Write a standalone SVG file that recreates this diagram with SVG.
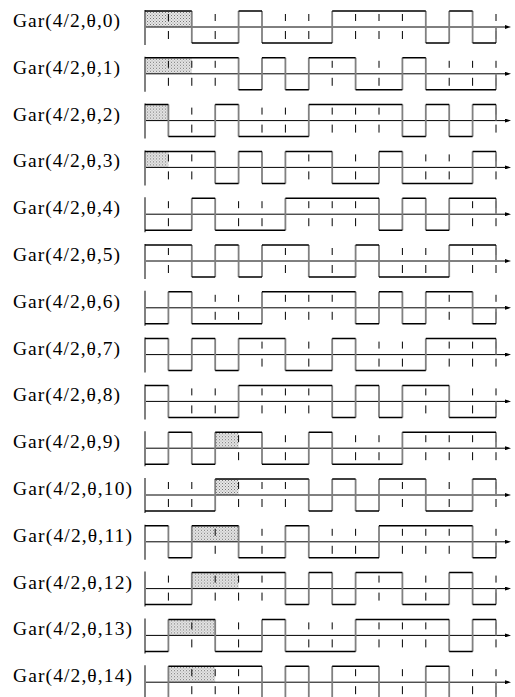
<svg xmlns="http://www.w3.org/2000/svg" xmlns:xlink="http://www.w3.org/1999/xlink" width="515" height="697" viewBox="0 0 515 697">
<style>
.lbl{font-family:"Liberation Serif","Times New Roman",serif;font-size:19.5px;fill:#000}
.hz{fill:none;stroke:#000;stroke-width:1.5}
.vt{fill:none;stroke:#808080;stroke-width:1.8}
.yax{stroke:#808080;stroke-width:2}
.ax{stroke:#000;stroke-width:1}
.tk{stroke:#000;stroke-width:1;stroke-dasharray:7 10 8}
.sh{fill:url(#dots);stroke:none}
</style>
<defs>
<pattern id="dots" width="3" height="3" patternUnits="userSpaceOnUse">
<rect width="3" height="3" fill="#e6e6e6"/>
<rect width="1" height="1" fill="#777"/>
<rect x="1.5" y="1.5" width="1" height="1" fill="#999"/>
</pattern>
<marker id="arr" viewBox="0 0 6 4" refX="1" refY="2" markerWidth="6" markerHeight="4" markerUnits="userSpaceOnUse" orient="auto">
<path d="M0,0 L6,2 L0,4 Z" fill="#000"/>
</marker>
<line id="tick" class="tk" x1="0" y1="-13" x2="0" y2="12"/>
<g id="frame">
<line class="ax" x1="145" y1="0" x2="506" y2="0" marker-end="url(#arr)"/>
<line class="yax" x1="145" y1="-17" x2="145" y2="18"/>
</g>
</defs>

<g id="row0" transform="translate(0,27)">
<text class="lbl" x="13" y="0" textLength="107" lengthAdjust="spacing">Gar(4/2,θ,0)</text>
<rect class="sh" x="145" y="-16" width="46.8" height="16"/>
<use href="#frame"/>
<use href="#tick" x="168.4"/><use href="#tick" x="215.2"/><use href="#tick" x="285.4"/><use href="#tick" x="308.8"/><use href="#tick" x="355.6"/><use href="#tick" x="379"/><use href="#tick" x="402.4"/><use href="#tick" x="496"/>
<path class="vt" d="M191.8 -16V16M238.6 -16V16M262 -16V16M332.2 -16V16M425.8 -16V16M449.2 -16V16M472.6 -16V16M496 0V16"/>
<path class="hz" d="M145 -16H191.8M191.8 16H238.6M238.6 -16H262M262 16H332.2M332.2 -16H425.8M425.8 16H449.2M449.2 -16H472.6M472.6 16H496"/>
</g>

<g id="row1" transform="translate(0,73.8)">
<text class="lbl" x="13" y="0" textLength="107" lengthAdjust="spacing">Gar(4/2,θ,1)</text>
<rect class="sh" x="145" y="-16" width="46.8" height="16"/>
<use href="#frame"/>
<use href="#tick" x="168.4"/><use href="#tick" x="191.8"/><use href="#tick" x="215.2"/><use href="#tick" x="332.2"/><use href="#tick" x="379"/><use href="#tick" x="449.2"/><use href="#tick" x="472.6"/><use href="#tick" x="496"/>
<path class="vt" d="M238.6 -16V16M262 -16V16M285.4 -16V16M308.8 -16V16M355.6 -16V16M402.4 -16V16M425.8 -16V16M496 0V16"/>
<path class="hz" d="M145 -16H238.6M238.6 16H262M262 -16H285.4M285.4 16H308.8M308.8 -16H355.6M355.6 16H402.4M402.4 -16H425.8M425.8 16H496"/>
</g>

<g id="row2" transform="translate(0,120.6)">
<text class="lbl" x="13" y="0" textLength="107" lengthAdjust="spacing">Gar(4/2,θ,2)</text>
<rect class="sh" x="145" y="-16" width="23.4" height="16"/>
<use href="#frame"/>
<use href="#tick" x="191.8"/><use href="#tick" x="262"/><use href="#tick" x="285.4"/><use href="#tick" x="332.2"/><use href="#tick" x="355.6"/><use href="#tick" x="379"/><use href="#tick" x="496"/>
<path class="vt" d="M168.4 -16V16M215.2 -16V16M238.6 -16V16M308.8 -16V16M402.4 -16V16M425.8 -16V16M449.2 -16V16M472.6 -16V16M496 -16V0"/>
<path class="hz" d="M145 -16H168.4M168.4 16H215.2M215.2 -16H238.6M238.6 16H308.8M308.8 -16H402.4M402.4 16H425.8M425.8 -16H449.2M449.2 16H472.6M472.6 -16H496"/>
</g>

<g id="row3" transform="translate(0,167.4)">
<text class="lbl" x="13" y="0" textLength="107" lengthAdjust="spacing">Gar(4/2,θ,3)</text>
<rect class="sh" x="145" y="-16" width="23.4" height="16"/>
<use href="#frame"/>
<use href="#tick" x="168.4"/><use href="#tick" x="191.8"/><use href="#tick" x="308.8"/><use href="#tick" x="355.6"/><use href="#tick" x="425.8"/><use href="#tick" x="449.2"/><use href="#tick" x="496"/>
<path class="vt" d="M215.2 -16V16M238.6 -16V16M262 -16V16M285.4 -16V16M332.2 -16V16M379 -16V16M402.4 -16V16M472.6 -16V16M496 -16V0"/>
<path class="hz" d="M145 -16H215.2M215.2 16H238.6M238.6 -16H262M262 16H285.4M285.4 -16H332.2M332.2 16H379M379 -16H402.4M402.4 16H472.6M472.6 -16H496"/>
</g>

<g id="row4" transform="translate(0,214.2)">
<text class="lbl" x="13" y="0" textLength="107" lengthAdjust="spacing">Gar(4/2,θ,4)</text>
<use href="#frame"/>
<use href="#tick" x="168.4"/><use href="#tick" x="238.6"/><use href="#tick" x="262"/><use href="#tick" x="308.8"/><use href="#tick" x="332.2"/><use href="#tick" x="355.6"/><use href="#tick" x="472.6"/><use href="#tick" x="496"/>
<path class="vt" d="M191.8 -16V16M215.2 -16V16M285.4 -16V16M379 -16V16M402.4 -16V16M425.8 -16V16M449.2 -16V16M496 -16V0"/>
<path class="hz" d="M145 16H191.8M191.8 -16H215.2M215.2 16H285.4M285.4 -16H379M379 16H402.4M402.4 -16H425.8M425.8 16H449.2M449.2 -16H496"/>
</g>

<g id="row5" transform="translate(0,261)">
<text class="lbl" x="13" y="0" textLength="107" lengthAdjust="spacing">Gar(4/2,θ,5)</text>
<use href="#frame"/>
<use href="#tick" x="168.4"/><use href="#tick" x="285.4"/><use href="#tick" x="332.2"/><use href="#tick" x="402.4"/><use href="#tick" x="425.8"/><use href="#tick" x="472.6"/><use href="#tick" x="496"/>
<path class="vt" d="M191.8 -16V16M215.2 -16V16M238.6 -16V16M262 -16V16M308.8 -16V16M355.6 -16V16M379 -16V16M449.2 -16V16M496 -16V0"/>
<path class="hz" d="M145 -16H191.8M191.8 16H215.2M215.2 -16H238.6M238.6 16H262M262 -16H308.8M308.8 16H355.6M355.6 -16H379M379 16H449.2M449.2 -16H496"/>
</g>

<g id="row6" transform="translate(0,307.8)">
<text class="lbl" x="13" y="0" textLength="107" lengthAdjust="spacing">Gar(4/2,θ,6)</text>
<use href="#frame"/>
<use href="#tick" x="215.2"/><use href="#tick" x="238.6"/><use href="#tick" x="285.4"/><use href="#tick" x="308.8"/><use href="#tick" x="332.2"/><use href="#tick" x="449.2"/><use href="#tick" x="496"/>
<path class="vt" d="M168.4 -16V16M191.8 -16V16M262 -16V16M355.6 -16V16M379 -16V16M402.4 -16V16M425.8 -16V16M472.6 -16V16M496 0V16"/>
<path class="hz" d="M145 16H168.4M168.4 -16H191.8M191.8 16H262M262 -16H355.6M355.6 16H379M379 -16H402.4M402.4 16H425.8M425.8 -16H472.6M472.6 16H496"/>
</g>

<g id="row7" transform="translate(0,354.6)">
<text class="lbl" x="13" y="0" textLength="107" lengthAdjust="spacing">Gar(4/2,θ,7)</text>
<use href="#frame"/>
<use href="#tick" x="262"/><use href="#tick" x="308.8"/><use href="#tick" x="379"/><use href="#tick" x="402.4"/><use href="#tick" x="449.2"/><use href="#tick" x="472.6"/><use href="#tick" x="496"/>
<path class="vt" d="M168.4 -16V16M191.8 -16V16M215.2 -16V16M238.6 -16V16M285.4 -16V16M332.2 -16V16M355.6 -16V16M425.8 -16V16M496 -16V0"/>
<path class="hz" d="M145 -16H168.4M168.4 16H191.8M191.8 -16H215.2M215.2 16H238.6M238.6 -16H285.4M285.4 16H332.2M332.2 -16H355.6M355.6 16H425.8M425.8 -16H496"/>
</g>

<g id="row8" transform="translate(0,401.4)">
<text class="lbl" x="13" y="0" textLength="107" lengthAdjust="spacing">Gar(4/2,θ,8)</text>
<use href="#frame"/>
<use href="#tick" x="191.8"/><use href="#tick" x="215.2"/><use href="#tick" x="262"/><use href="#tick" x="285.4"/><use href="#tick" x="308.8"/><use href="#tick" x="425.8"/><use href="#tick" x="472.6"/><use href="#tick" x="496"/>
<path class="vt" d="M168.4 -16V16M238.6 -16V16M332.2 -16V16M355.6 -16V16M379 -16V16M402.4 -16V16M449.2 -16V16M496 0V16"/>
<path class="hz" d="M145 -16H168.4M168.4 16H238.6M238.6 -16H332.2M332.2 16H355.6M355.6 -16H379M379 16H402.4M402.4 -16H449.2M449.2 16H496"/>
</g>

<g id="row9" transform="translate(0,448.2)">
<text class="lbl" x="13" y="0" textLength="107" lengthAdjust="spacing">Gar(4/2,θ,9)</text>
<rect class="sh" x="215.2" y="-16" width="23.4" height="16"/>
<use href="#frame"/>
<use href="#tick" x="238.6"/><use href="#tick" x="285.4"/><use href="#tick" x="355.6"/><use href="#tick" x="379"/><use href="#tick" x="425.8"/><use href="#tick" x="449.2"/><use href="#tick" x="472.6"/><use href="#tick" x="496"/>
<path class="vt" d="M168.4 -16V16M191.8 -16V16M215.2 -16V16M262 -16V16M308.8 -16V16M332.2 -16V16M402.4 -16V16M496 -16V0"/>
<path class="hz" d="M145 16H168.4M168.4 -16H191.8M191.8 16H215.2M215.2 -16H262M262 16H308.8M308.8 -16H332.2M332.2 16H402.4M402.4 -16H496"/>
</g>

<g id="row10" transform="translate(0,495)">
<text class="lbl" x="13" y="0" textLength="119" lengthAdjust="spacing">Gar(4/2,θ,10)</text>
<rect class="sh" x="215.2" y="-16" width="23.4" height="16"/>
<use href="#frame"/>
<use href="#tick" x="168.4"/><use href="#tick" x="191.8"/><use href="#tick" x="238.6"/><use href="#tick" x="262"/><use href="#tick" x="285.4"/><use href="#tick" x="402.4"/><use href="#tick" x="449.2"/><use href="#tick" x="496"/>
<path class="vt" d="M215.2 -16V16M308.8 -16V16M332.2 -16V16M355.6 -16V16M379 -16V16M425.8 -16V16M472.6 -16V16M496 -16V0"/>
<path class="hz" d="M145 16H215.2M215.2 -16H308.8M308.8 16H332.2M332.2 -16H355.6M355.6 16H379M379 -16H425.8M425.8 16H472.6M472.6 -16H496"/>
</g>

<g id="row11" transform="translate(0,541.8)">
<text class="lbl" x="13" y="0" textLength="119" lengthAdjust="spacing">Gar(4/2,θ,11)</text>
<rect class="sh" x="191.8" y="-16" width="46.8" height="16"/>
<use href="#frame"/>
<use href="#tick" x="215.2"/><use href="#tick" x="262"/><use href="#tick" x="332.2"/><use href="#tick" x="355.6"/><use href="#tick" x="402.4"/><use href="#tick" x="425.8"/><use href="#tick" x="449.2"/><use href="#tick" x="496"/>
<path class="vt" d="M168.4 -16V16M191.8 -16V16M238.6 -16V16M285.4 -16V16M308.8 -16V16M379 -16V16M472.6 -16V16M496 0V16"/>
<path class="hz" d="M145 -16H168.4M168.4 16H191.8M191.8 -16H238.6M238.6 16H285.4M285.4 -16H308.8M308.8 16H379M379 -16H472.6M472.6 16H496"/>
</g>

<g id="row12" transform="translate(0,588.6)">
<text class="lbl" x="13" y="0" textLength="119" lengthAdjust="spacing">Gar(4/2,θ,12)</text>
<rect class="sh" x="191.8" y="-16" width="46.8" height="16"/>
<use href="#frame"/>
<use href="#tick" x="168.4"/><use href="#tick" x="215.2"/><use href="#tick" x="238.6"/><use href="#tick" x="262"/><use href="#tick" x="379"/><use href="#tick" x="425.8"/><use href="#tick" x="496"/>
<path class="vt" d="M191.8 -16V16M285.4 -16V16M308.8 -16V16M332.2 -16V16M355.6 -16V16M402.4 -16V16M449.2 -16V16M472.6 -16V16M496 0V16"/>
<path class="hz" d="M145 16H191.8M191.8 -16H285.4M285.4 16H308.8M308.8 -16H332.2M332.2 16H355.6M355.6 -16H402.4M402.4 16H449.2M449.2 -16H472.6M472.6 16H496"/>
</g>

<g id="row13" transform="translate(0,635.4)">
<text class="lbl" x="13" y="0" textLength="119" lengthAdjust="spacing">Gar(4/2,θ,13)</text>
<rect class="sh" x="168.4" y="-16" width="46.8" height="16"/>
<use href="#frame"/>
<use href="#tick" x="191.8"/><use href="#tick" x="238.6"/><use href="#tick" x="308.8"/><use href="#tick" x="332.2"/><use href="#tick" x="379"/><use href="#tick" x="402.4"/><use href="#tick" x="425.8"/><use href="#tick" x="496"/>
<path class="vt" d="M168.4 -16V16M215.2 -16V16M262 -16V16M285.4 -16V16M355.6 -16V16M449.2 -16V16M472.6 -16V16M496 -16V0"/>
<path class="hz" d="M145 16H168.4M168.4 -16H215.2M215.2 16H262M262 -16H285.4M285.4 16H355.6M355.6 -16H449.2M449.2 16H472.6M472.6 -16H496"/>
</g>

<g id="row14" transform="translate(0,682.2)">
<text class="lbl" x="13" y="0" textLength="119" lengthAdjust="spacing">Gar(4/2,θ,14)</text>
<rect class="sh" x="168.4" y="-16" width="46.8" height="16"/>
<use href="#frame"/>
<use href="#tick" x="191.8"/><use href="#tick" x="215.2"/><use href="#tick" x="238.6"/><use href="#tick" x="355.6"/><use href="#tick" x="402.4"/><use href="#tick" x="472.6"/><use href="#tick" x="496"/>
<path class="vt" d="M168.4 -16V16M262 -16V16M285.4 -16V16M308.8 -16V16M332.2 -16V16M379 -16V16M425.8 -16V16M449.2 -16V16M496 0V16"/>
<path class="hz" d="M145 16H168.4M168.4 -16H262M262 16H285.4M285.4 -16H308.8M308.8 16H332.2M332.2 -16H379M379 16H425.8M425.8 -16H449.2M449.2 16H496"/>
</g>
</svg>
